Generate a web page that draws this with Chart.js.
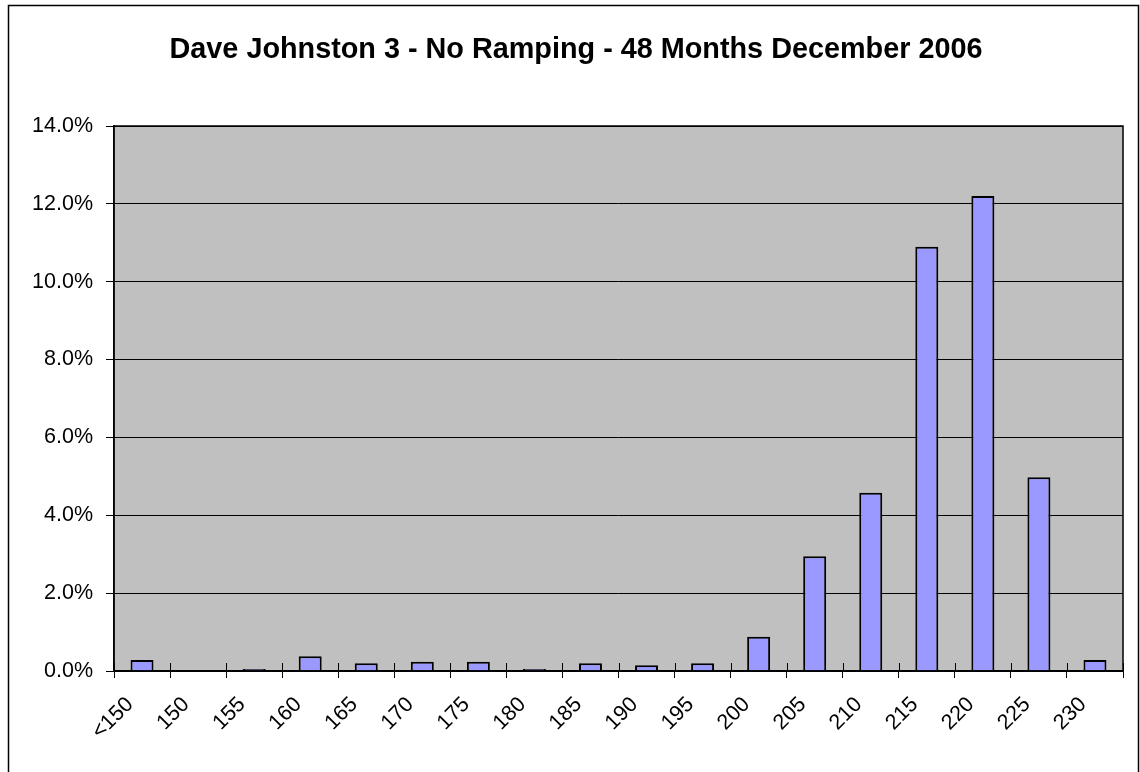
<!DOCTYPE html>
<html>
<head>
<meta charset="utf-8">
<style>
  html, body { margin: 0; padding: 0; background: #ffffff; }
  #wrap { width: 1140px; height: 772px; position: relative; }
</style>
<script src="https://cdn.jsdelivr.net/npm/chart.js@4/dist/chart.umd.min.js"></script>
</head>
<body>
<div id="wrap"><canvas id="c" width="1140" height="772"></canvas></div>
<script>
const categories = ['<150','150','155','160','165','170','175','180','185','190','195','200','205','210','215','220','225','230'];
const shareValues = [0.28, 0, 0.05, 0.38, 0.2, 0.24, 0.24, 0.05, 0.2, 0.15, 0.2, 0.88, 2.95, 4.58, 10.9, 12.2, 4.98, 0.28];
const yTickValues = [0, 2, 4, 6, 8, 10, 12, 14];
const chartTitle = 'Dave Johnston 3 - No Ramping - 48 Months December 2006';

const FONT = '"Liberation Sans", Arial, Helvetica, sans-serif';

const frame = {
  id: 'frame',
  beforeDraw(chart) {
    const ctx = chart.ctx;
    ctx.save();
    ctx.fillStyle = '#ffffff';
    ctx.fillRect(0, 0, chart.width, chart.height);
    ctx.strokeStyle = '#000000';
    ctx.lineWidth = 1.5;
    ctx.strokeRect(8.5, 5.5, 1130, 800);
    const a = chart.chartArea;
    ctx.fillStyle = '#C0C0C0';
    ctx.fillRect(a.left, a.top, a.right - a.left, a.bottom - a.top);
    // title
    ctx.fillStyle = '#000000';
    ctx.font = 'bold 28.8px ' + FONT;
    ctx.textAlign = 'center';
    ctx.textBaseline = 'alphabetic';
    ctx.fillText(chartTitle, 576, 57.5);
    ctx.restore();
  },
  afterDatasetsDraw(chart) {
    const ctx = chart.ctx;
    const a = chart.chartArea;
    const xs = chart.scales.x;
    ctx.save();
    ctx.strokeStyle = '#000000';
    ctx.lineWidth = 1;
    // inner half of crossing tick marks on the category axis
    for (let i = 0; i <= categories.length; i++) {
      const px = Math.round(xs.getPixelForValue(i - 0.5)) + 0.5;
      ctx.beginPath();
      ctx.moveTo(px, a.bottom);
      ctx.lineTo(px, a.bottom - 8);
      ctx.stroke();
    }
    ctx.lineWidth = 1.5;
    ctx.strokeRect(a.left, a.top, a.right - a.left, a.bottom - a.top);
    ctx.restore();
  }
};

new Chart(document.getElementById('c'), {
  type: 'bar',
  data: {
    labels: categories,
    datasets: [{
      data: shareValues,
      backgroundColor: '#9999FF',
      borderColor: '#000000',
      borderWidth: 2,
      barPercentage: 0.41,
      categoryPercentage: 1.0
    }]
  },
  options: {
    responsive: false,
    animation: false,
    devicePixelRatio: 1,
    layout: { padding: { left: 0, right: 17, top: 126, bottom: 0 } },
    plugins: {
      legend: { display: false },
      tooltip: { enabled: false },
      title: { display: false }
    },
    scales: {
      x: {
        offset: true,
        grid: { display: true, offset: true, drawOnChartArea: false, color: '#000000', tickLength: 7, lineWidth: 1 },
        border: { display: true, color: '#000000', width: 1.5 },
        ticks: {
          autoSkip: false,
          maxRotation: 45,
          minRotation: 45,
          color: '#000000',
          padding: 14,
          labelOffset: -12,
          font: { family: FONT, size: 21.5 }
        },
        afterFit(scale) { scale.height = 101; scale.paddingLeft = 0; scale.paddingRight = 0; }
      },
      y: {
        min: 0,
        max: 14,
        afterBuildTicks(scale) { scale.ticks = yTickValues.map(v => ({ value: v })); },
        grid: { display: true, color: '#000000', lineWidth: 1, tickLength: 8 },
        border: { display: true, color: '#000000', width: 1.5 },
        ticks: {
          color: '#000000',
          padding: 13,
          font: { family: FONT, size: 21.5 },
          callback: (v) => Number(v).toFixed(1) + '%'
        },
        afterFit(scale) { scale.width = 114; }
      }
    }
  },
  plugins: [frame]
});
</script>
</body>
</html>
